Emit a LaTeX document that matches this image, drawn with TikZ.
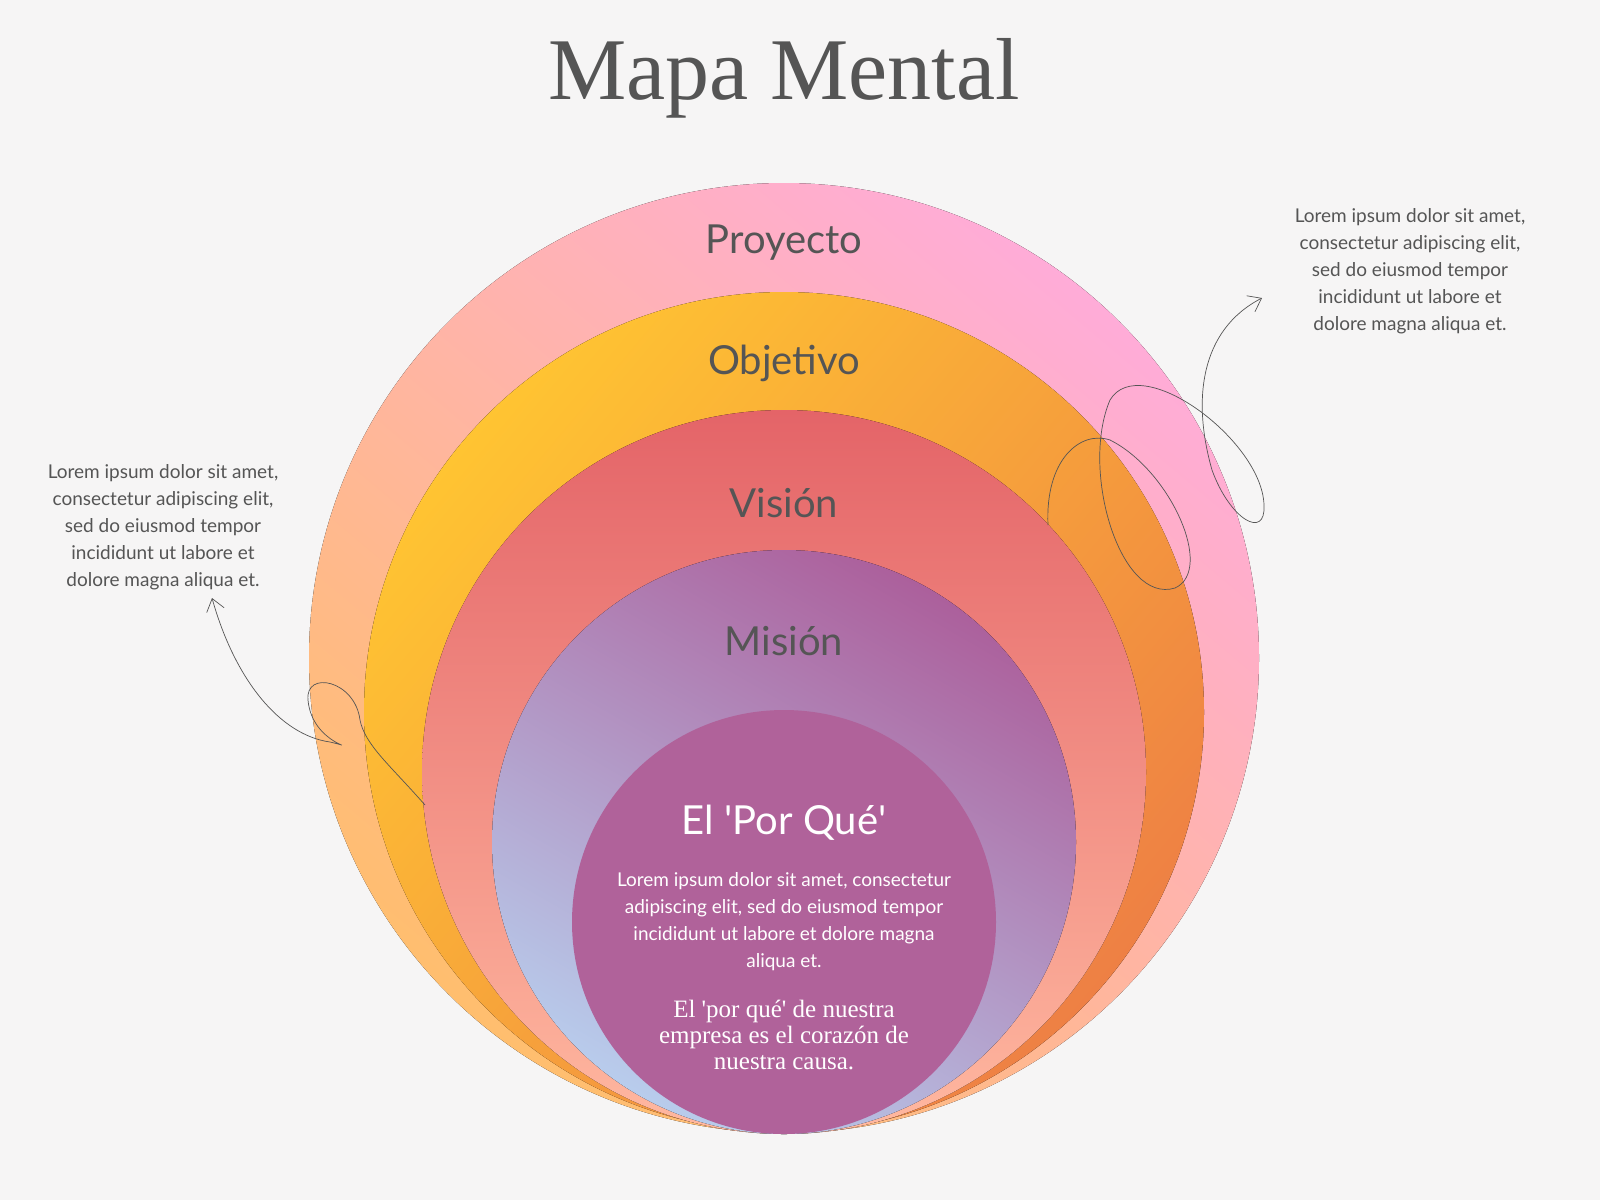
\documentclass[tikz,border=0pt]{standalone}
\usepackage{fontspec}
\setmainfont{Lato}
\newfontfamily\titlefont{Liberation Serif}
\usetikzlibrary{arrows.meta, positioning}
\usepackage{xcolor}
\definecolor{paper}{RGB}{246,245,245}
\definecolor{inkgray}{RGB}{85,85,85}
\definecolor{proypink}{RGB}{255,172,216}
\definecolor{proyorange}{RGB}{255,190,110}
\definecolor{objyellow}{RGB}{255,196,50}
\definecolor{objorange}{RGB}{238,128,68}
\definecolor{visred}{RGB}{228,100,104}
\definecolor{vispeach}{RGB}{255,184,160}
\definecolor{mispurple}{RGB}{172,96,156}
\definecolor{misblue}{RGB}{184,204,236}
\definecolor{porque}{RGB}{176,98,154}
\tikzset{ringlabel/.style={font=\fontsize{20}{24}\selectfont, text=inkgray},
         sidenote/.style={font=\fontsize{9.5}{13.5}\selectfont, text=inkgray, align=center},
         curl/.style={draw=inkgray, line width=0.35pt, -{Straight Barb[length=6pt, width=9pt]}}}

\begin{document}
\begin{tikzpicture}[x=0.5pt, y=-0.5pt]
    % Background
    \fill[paper] (0,0) rectangle (1600,1200);
    % Title
    \node[font=\titlefont\fontsize{44}{50}\selectfont, text=inkgray] (title) at (784,78) {Mapa Mental};
    % Rings
    \fill[top color=proypink, bottom color=proyorange, shading angle=-40] (784,658) circle[radius=237.5pt];
    \fill[top color=objyellow, bottom color=objorange, shading angle=50] (784,712) circle[radius=210pt];
    \fill[top color=visred, bottom color=vispeach] (784,772) circle[radius=181pt];
    \fill[top color=mispurple, bottom color=misblue, shading angle=-30] (784,842) circle[radius=146pt];
    \fill[porque] (784,922) circle[radius=106pt];
    % Ring labels
    \node[ringlabel] (proyecto) at (784,243) {Proyecto};
    \node[ringlabel] (objetivo) at (784,363) {Objetivo};
    \node[ringlabel] (vision) at (784,503) {Visión};
    \node[ringlabel] (mision) at (784,641) {Misión};
    \node[ringlabel, text=white] (porq) at (784,823) {El \textquotesingle Por Qué\textquotesingle};
    \node[sidenote, text=white] (porqtext) at (784,922) {Lorem ipsum dolor sit amet, consectetur\\adipiscing elit, sed do eiusmod tempor\\incididunt ut labore et dolore magna\\aliqua et.};
    \node[font=\titlefont\fontsize{12.5}{13}\selectfont, text=white, align=center] (quote) at (784,1035)
        {El \textquotesingle por qué\textquotesingle{} de nuestra\\empresa es el corazón de\\nuestra causa.};
    % Side notes
    \node[sidenote] (leftnote) at (163,527) {Lorem ipsum dolor sit amet,\\consectetur adipiscing elit,\\sed do eiusmod tempor\\incididunt ut labore et\\dolore magna aliqua et.};
    \node[sidenote] (rightnote) at (1410,271) {Lorem ipsum dolor sit amet,\\consectetur adipiscing elit,\\sed do eiusmod tempor\\incididunt ut labore et\\dolore magna aliqua et.};
    % Curly arrows
    \coordinate (leftstart) at (425,805);
    \coordinate (lefttip) at (212,598);
    \coordinate (rightstart) at (1048,525);
    \coordinate (righttip) at (1262,298);
    \draw[curl] (leftstart) .. controls (390,765) and (365,745) .. (360,720)
        .. controls (355,680) and (305,670) .. (308,700)
        .. controls (312,745) and (365,750) .. (330,742)
        .. controls (280,735) and (235,680) .. (lefttip);
    \draw[curl] (rightstart) .. controls (1045,460) and (1080,430) .. (1110,440)
        .. controls (1170,470) and (1215,570) .. (1175,588)
        .. controls (1120,605) and (1080,470) .. (1110,400)
        .. controls (1140,350) and (1262,440) .. (1264,505)
        .. controls (1266,540) and (1230,520) .. (1212,470)
        .. controls (1192,400) and (1200,330) .. (righttip);
\end{tikzpicture}
\end{document}
